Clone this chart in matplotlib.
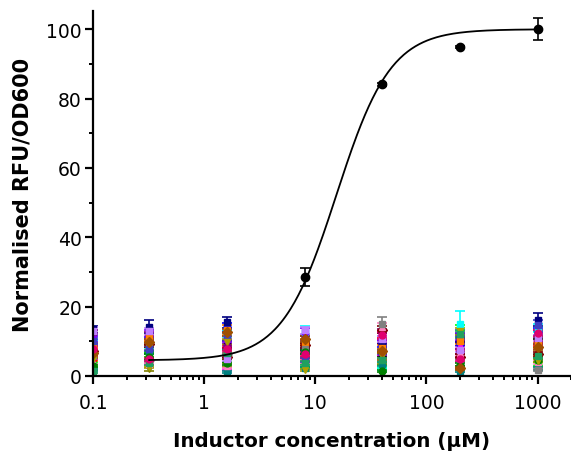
import numpy as np
import matplotlib
matplotlib.use("Agg")
import matplotlib.pyplot as plt
from matplotlib.ticker import LogLocator, NullFormatter, MultipleLocator, FuncFormatter

plt.rcParams['font.family'] = ['DejaVu Sans']

# inductor concentrations (uM)
conc = [0.1, 0.32, 1.6, 8, 40, 200, 1000]

# main construct (black)
main_x = [0.32, 1.6, 8, 40, 200, 1000]
main_y = [4.6, 6.4, 28.5, 84.1, 94.8, 100.0]
main_err = [0.8, 1.0, 2.6, 0.5, 0.3, 3.2]

# Hill fit of the main construct
fit_bottom = 4.5
fit_top = 100.0
fit_ec50 = 15.5
fit_n = 1.78

# control constructs (background, many colours)
ctrl_colors = ['#000000', '#FF0000', '#0000FF', '#00FF00', '#FF00FF', '#00FFFF',
               '#808000', '#000080', '#800080', '#8000FF', '#800000', '#008080',
               '#FF8000', '#FF80C0', '#808080', '#008000', '#4040C0', '#B0A000',
               '#C080FF', '#A05000', '#20A060', '#E0006F']
ctrl_markers = ['s', 's', 'o', 's', '^', 's', 'v', 's', 'o', 's', 'D', 's',
                's', '^', 's', 'o', 's', 'v', 's', 'D', 's', 'o']
ctrl_y = [
    [6.0, 7.5, 9.0, 8.2, 6.4, 10.5, 11.8],
    [5.2, 5.0, 7.4, 5.6, 10.1, 8.0, 9.4],
    [9.5, 10.2, 14.1, 7.2, 9.2, 9.3, 12.8],
    [3.1, 6.2, 4.4, 3.0, 2.8, 13.6, 3.5],
    [4.0, 4.1, 2.0, 5.0, 5.3, 8.8, 7.0],
    [11.2, 8.7, 12.3, 12.6, 2.0, 15.0, 13.9],
    [2.2, 2.0, 3.2, 6.1, 4.0, 2.6, 5.1],
    [13.5, 14.2, 15.5, 10.4, 8.6, 11.0, 16.2],
    [12.5, 11.6, 8.5, 11.0, 12.6, 7.1, 10.2],
    [10.6, 12.4, 10.7, 12.9, 11.4, 11.5, 8.7],
    [7.3, 9.2, 5.4, 8.8, 13.4, 5.6, 6.3],
    [1.8, 6.9, 1.2, 2.3, 3.5, 1.5, 2.2],
    [8.8, 10.9, 13.3, 9.8, 8.0, 10.1, 9.0],
    [3.9, 3.4, 2.8, 4.2, 14.2, 6.6, 3.9],
    [5.8, 8.3, 6.0, 7.7, 15.0, 4.4, 1.6],
    [2.9, 5.6, 3.6, 6.9, 1.5, 3.3, 4.7],
    [10.0, 7.9, 11.4, 4.6, 6.9, 12.2, 14.7],
    [4.8, 2.6, 9.7, 1.7, 5.9, 12.9, 4.4],
    [13.0, 12.9, 4.9, 13.2, 10.7, 7.6, 11.0],
    [6.7, 9.8, 12.6, 10.6, 7.2, 2.2, 8.3],
    [1.3, 3.7, 6.7, 3.8, 4.7, 12.0, 5.8],
    [7.9, 4.8, 7.9, 6.4, 11.8, 4.9, 12.4],
]
ctrl_err = [
    [0.8, 0.9, 1.0, 0.7, 0.6, 1.0, 1.2],
    [0.6, 0.5, 0.8, 0.6, 0.9, 0.7, 0.8],
    [0.9, 1.0, 1.2, 0.8, 0.9, 0.8, 1.1],
    [0.5, 0.7, 0.6, 0.5, 0.4, 1.2, 0.5],
    [0.5, 0.6, 0.4, 0.6, 0.7, 0.9, 0.8],
    [1.0, 0.8, 1.1, 1.9, 0.4, 3.7, 1.2],
    [0.4, 0.5, 0.5, 0.7, 0.5, 0.4, 0.6],
    [1.0, 1.8, 1.6, 1.0, 1.0, 1.1, 1.9],
    [0.9, 1.0, 0.8, 0.9, 1.0, 0.7, 0.9],
    [0.8, 1.0, 0.9, 1.0, 0.9, 1.0, 0.8],
    [0.7, 0.8, 0.6, 0.8, 1.0, 0.6, 0.7],
    [0.3, 0.6, 0.3, 0.4, 0.5, 0.3, 0.4],
    [0.8, 0.9, 1.5, 0.9, 0.8, 0.9, 0.9],
    [0.5, 0.4, 0.4, 0.5, 1.1, 0.7, 0.5],
    [0.6, 0.8, 0.7, 0.8, 2.0, 0.5, 0.3],
    [0.4, 0.6, 0.5, 0.7, 0.3, 0.4, 0.6],
    [0.9, 0.7, 1.0, 0.5, 0.7, 1.0, 1.3],
    [0.5, 0.4, 0.9, 0.3, 0.6, 1.0, 0.5],
    [1.0, 1.0, 0.6, 1.0, 0.9, 0.7, 0.9],
    [0.7, 0.9, 1.0, 0.9, 0.7, 0.4, 0.8],
    [0.3, 0.5, 0.7, 0.5, 0.6, 1.0, 0.6],
    [0.7, 0.5, 0.8, 0.6, 1.0, 0.5, 1.0],
]

fig = plt.figure(figsize=(5.71, 4.52), dpi=100)
ax = fig.add_axes([0.163, 0.166, 0.837, 0.807])

ax.errorbar(main_x, main_y, yerr=main_err, fmt='o', color='black', ms=6,
            capsize=3.3, elinewidth=1.2, capthick=1.2, zorder=2)

for c, m, y, e in zip(ctrl_colors, ctrl_markers, ctrl_y, ctrl_err):
    ax.errorbar(conc, y, yerr=e, fmt=m, color=c, ms=5, capsize=3.3,
                elinewidth=1.2, capthick=1.2, zorder=3)

xf = np.logspace(np.log10(0.32), np.log10(1000), 300)
yf = fit_bottom + (fit_top - fit_bottom) / (1 + (fit_ec50 / xf) ** fit_n)
ax.plot(xf, yf, color='black', lw=1.3, zorder=4)

ax.set_xscale('log')
ax.set_xlim(0.1, 2000)
ax.set_ylim(0, 105.2)

ax.spines['top'].set_visible(False)
ax.spines['right'].set_visible(False)
ax.spines['left'].set_linewidth(1.6)
ax.spines['bottom'].set_linewidth(1.6)
ax.spines['left'].set_zorder(5)
ax.spines['bottom'].set_zorder(5)

ax.xaxis.set_major_locator(LogLocator(base=10, numticks=10))
ax.xaxis.set_minor_locator(LogLocator(base=10, subs=np.arange(2, 10), numticks=20))
ax.xaxis.set_minor_formatter(NullFormatter())
ax.xaxis.set_major_formatter(FuncFormatter(lambda v, p: ('%g' % v)))
ax.yaxis.set_major_locator(MultipleLocator(20))
ax.yaxis.set_minor_locator(MultipleLocator(10))

ax.tick_params(which='major', direction='out', length=6, width=1.6, labelsize=13.5)
ax.tick_params(axis='x', which='major', pad=6)
ax.tick_params(axis='y', which='major', pad=2)
ax.tick_params(which='minor', direction='out', length=3, width=1.4)

ax.set_xlabel('Inductor concentration (µM)', fontsize=14.3, fontweight='bold', labelpad=14)
ax.set_ylabel('Normalised RFU/OD600', fontsize=15, fontweight='bold', labelpad=10)

fig.savefig('out.png', dpi=100)
